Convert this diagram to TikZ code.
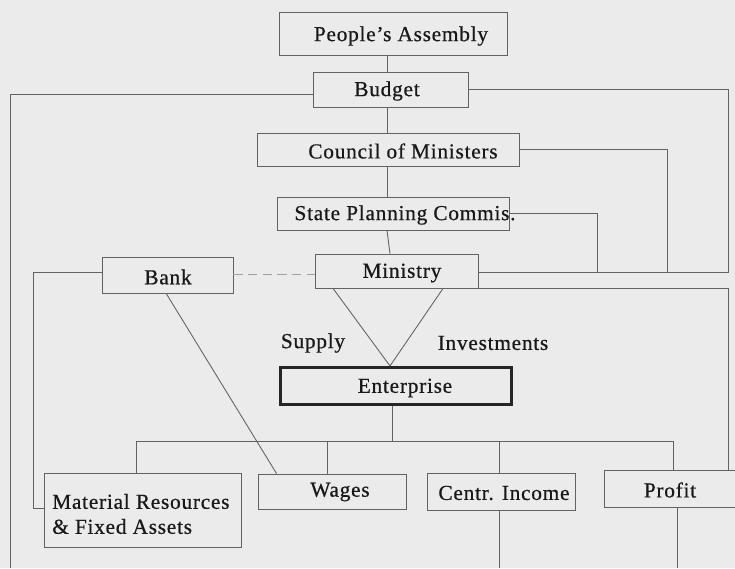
\documentclass[tikz,border=0pt]{standalone}
\usepackage{fontspec}
\setmainfont{Liberation Serif}[LetterSpace=3.5,FakeBold=0.6]
\begin{document}
\begin{tikzpicture}[x=0.75pt,y=-0.75pt,
  box/.style={draw=linegray,line width=0.65pt,fill=none,inner sep=0pt,rectangle},
  thickbox/.style={box,draw=black!85,line width=2pt},
  lbl/.style={font=\fontsize{16}{18.75}\selectfont,text=black!90,inner sep=0pt},
  conn/.style={draw=linegray,line width=0.65pt},
]
\definecolor{linegray}{HTML}{626262}
\definecolor{bggray}{HTML}{EBEBEB}
\fill[bggray] (0,0) rectangle (735,568);
\useasboundingbox (0,0) rectangle (735,568);

% boxes
\node[box,minimum width=171pt,minimum height=32.25pt]   (pa)   at (393,33.5)  {};
\node[box,minimum width=116.25pt,minimum height=26.25pt](bud)  at (390.5,89.5) {};
\node[box,minimum width=196.5pt,minimum height=24.75pt] (com)  at (388,149.5) {};
\node[box,minimum width=174pt,minimum height=24.75pt]   (spc)  at (393,213.5) {};
\node[box,minimum width=122.25pt,minimum height=25.5pt] (min)  at (396.5,271) {};
\node[box,minimum width=98.25pt,minimum height=27pt]    (bank) at (167.5,275) {};
\node[thickbox,minimum width=173.6pt,minimum height=28.1pt] (ent) at (396,386) {};
\node[box,minimum width=147.75pt,minimum height=55.5pt] (mat)  at (142.5,510) {};
\node[box,minimum width=111pt,minimum height=26.25pt]   (wag)  at (332,491.5) {};
\node[box,minimum width=111pt,minimum height=27.75pt]   (cen)  at (501,491.5) {};
\node[box,minimum width=99pt,minimum height=27.75pt]    (pro)  at (670,488.5) {};

% texts
\node[lbl] (paT)  at (401,36)  {People’s Assembly};
\node[lbl] (budT) at (387,91)  {Budget};
\node[lbl] (comT) at (403,151) {Council of Ministers};
\node[lbl] (spcT) at (405,215) {State Planning Commis.};
\node[lbl] (minT) at (402,273) {Ministry};
\node[lbl] (bankT) at (168,277) {Bank};
\node[lbl] (entT) at (405,388) {Enterprise};
\node[lbl] (supT) at (313,343) {Supply};
\node[lbl] (invT) at (493,343) {Investments};
\node[lbl] (wagT) at (340,492) {Wages};
\node[lbl] (cenT) at (504,493) {Centr. Income};
\node[lbl] (proT) at (670,490) {Profit};
\node[lbl,anchor=west,align=left] (matT) at (52,514) {Material Resources\\\& Fixed Assets};

% routing points
\coordinate (spine) at (387,0);
\coordinate (leftEnd) at (10,568);
\coordinate (rjoin) at (728,272);
\coordinate (cjoin) at (667,272);
\coordinate (sjoin) at (597,272);
\coordinate (bjoin) at (33,508);
\coordinate (busL) at (136,441);
\coordinate (busR) at (673,441);
\coordinate (cenEnd) at (499,568);
\coordinate (proEnd) at (677,568);

% vertical chain
\draw[conn] (pa.south -| spine) -- (bud.north -| spine);
\draw[conn] (bud.south -| spine) -- (com.north -| spine);
\draw[conn] (com.south -| spine) -- (spc.north -| spine);
\draw[conn] (spc.south -| spine) -- ([xshift=-4.9pt]min.north);

% budget links
\draw[conn] ([yshift=-3.4pt]bud.west) -| (leftEnd);
\draw[conn] (bud.east) -| (rjoin) -- (min.east |- rjoin);
\draw[conn] (com.east) -| (cjoin);
\draw[conn] (spc.east) -| (sjoin);
\draw[conn] (min.south east) -| (pro.north -| rjoin);

% bank links
\draw[conn,dash pattern=on 7pt off 4pt,draw=linegray!60] ([yshift=0.75pt]bank.east) -- ([yshift=0.75pt]min.west |- bank.east);
\draw[conn] ([yshift=2.25pt]bank.west) -| (bjoin) -- (mat.west |- bjoin);
\draw[conn] ([xshift=-1pt]bank.south) -- ([xshift=14.25pt]wag.north west);

% ministry to enterprise
\draw[conn] ([xshift=-47.6pt]min.south) -- ([xshift=-4.5pt]ent.north);
\draw[conn] ([xshift=34.9pt]min.south) -- ([xshift=-4.5pt]ent.north);

% enterprise distribution
\draw[conn] ([xshift=-3pt]ent.south) -- ([xshift=-3pt]ent.south |- busL);
\draw[conn] (busL) -- (busR);
\draw[conn] (busL) -- (mat.north -| busL);
\draw[conn] (wag.north -| 327,0) -- (327,441);
\draw[conn] (cen.north -| 499,0) -- (499,441);
\draw[conn] (busR) -- (pro.north -| busR);
\draw[conn] (cen.south -| cenEnd) -- (cenEnd);
\draw[conn] (pro.south -| proEnd) -- (proEnd);
\end{tikzpicture}
\end{document}
